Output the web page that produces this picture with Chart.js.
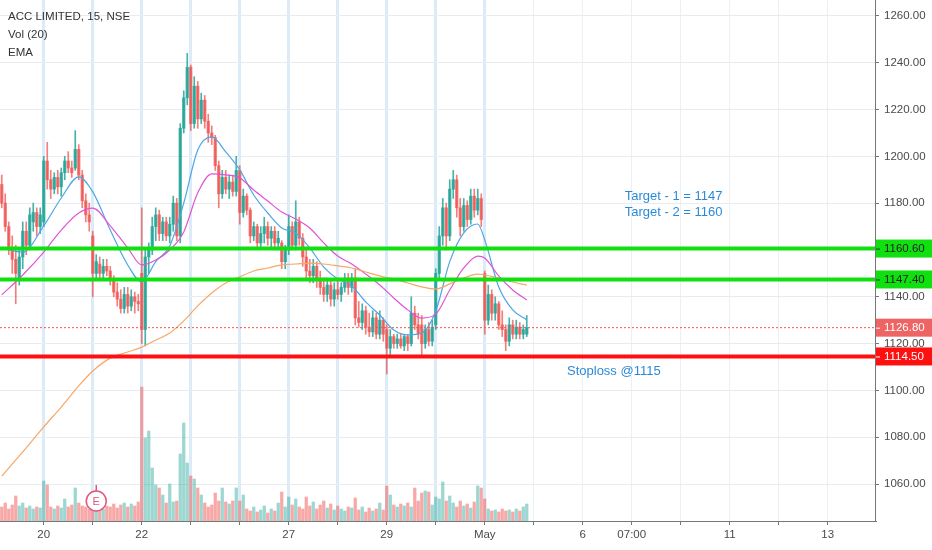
<!DOCTYPE html>
<html>
<head>
<meta charset="utf-8">
<title>ACC LIMITED, 15, NSE</title>
<script src="https://cdn.jsdelivr.net/npm/chart.js@4.4.1/dist/chart.umd.min.js"></script>
<style>
  html, body { margin: 0; padding: 0; background: #fff; }
  #wrap { width: 932px; height: 550px; position: relative; }
</style>
</head>
<body>
<div id="wrap"><canvas id="myChart"></canvas></div>
<script>
// 15 min candles, one entry per bar (index 0 = first visible bar)
const opens = [
  1188, 1180, 1170, 1161, 1156, 1148, 1157, 1168, 1162, 1172, 1176, 1170,
  1172, 1198, 1190, 1186, 1191, 1187, 1193, 1198, 1195, 1195, 1203, 1192, 1181, 1175,
  1166, 1150, 1154, 1150, 1153, 1151, 1147, 1142, 1139, 1135, 1141, 1136, 1140, 1138,
  1150, 1126, 1157, 1160, 1170, 1175, 1167, 1172, 1166, 1171, 1180, 1166, 1212, 1225,
  1238, 1214, 1230, 1216, 1224, 1215, 1210, 1208, 1196, 1184, 1191, 1186, 1189, 1185,
  1194, 1176, 1183, 1177, 1166, 1170, 1163, 1167, 1170, 1165, 1168, 1163, 1163, 1155,
  1160, 1170, 1162, 1172, 1165, 1157, 1151, 1149, 1153, 1147, 1144, 1141, 1145, 1139,
  1143, 1141, 1144, 1147, 1144, 1148, 1131, 1129, 1134, 1127, 1125, 1131, 1124, 1130,
  1126, 1118, 1123, 1120, 1122, 1119, 1123, 1120, 1133, 1128, 1128, 1120, 1126, 1121,
  1128, 1150, 1166, 1178, 1166, 1186, 1190, 1178, 1170, 1179, 1173, 1183, 1177, 1182,
  1150, 1130, 1141, 1133, 1137, 1128, 1126, 1121, 1128, 1124, 1127, 1124, 1124
];
const highs = [
  1192, 1184, 1172, 1166, 1162, 1160, 1172, 1172, 1178, 1180, 1178, 1178,
  1200, 1206, 1194, 1193, 1194, 1195, 1200, 1202, 1198, 1211, 1205, 1194, 1184, 1180,
  1168, 1158, 1157, 1156, 1156, 1153, 1149, 1146, 1143, 1144, 1144, 1143, 1142, 1141,
  1178, 1160, 1163, 1174, 1178, 1177, 1174, 1174, 1174, 1183, 1182, 1214, 1228, 1244,
  1239, 1234, 1232, 1227, 1226, 1218, 1213, 1209, 1198, 1194, 1194, 1192, 1192, 1200,
  1196, 1186, 1184, 1178, 1172, 1171, 1170, 1174, 1172, 1170, 1170, 1168, 1164, 1162,
  1175, 1172, 1181, 1174, 1167, 1160, 1156, 1156, 1155, 1151, 1148, 1148, 1147, 1146,
  1148, 1146, 1150, 1150, 1150, 1152, 1138, 1137, 1136, 1133, 1134, 1133, 1134, 1131,
  1128, 1126, 1124, 1124, 1124, 1124, 1124, 1140, 1136, 1133, 1132, 1128, 1129, 1130,
  1152, 1170, 1182, 1180, 1190, 1194, 1192, 1182, 1182, 1181, 1186, 1186, 1186, 1184,
  1151, 1145, 1143, 1140, 1138, 1134, 1128, 1131, 1130, 1130, 1129, 1128, 1132
];
const lows = [
  1178, 1168, 1158, 1150, 1137, 1145, 1152, 1158, 1160, 1168, 1166, 1167,
  1170, 1186, 1182, 1184, 1184, 1183, 1190, 1193, 1191, 1194, 1190, 1178, 1172, 1168,
  1140, 1148, 1148, 1147, 1149, 1145, 1140, 1136, 1133, 1133, 1133, 1134, 1133, 1134,
  1120, 1119, 1150, 1158, 1164, 1164, 1164, 1164, 1163, 1168, 1164, 1163, 1210, 1222,
  1211, 1212, 1212, 1214, 1212, 1206, 1205, 1194, 1178, 1182, 1184, 1182, 1183, 1183,
  1171, 1174, 1175, 1163, 1164, 1161, 1161, 1163, 1162, 1161, 1160, 1160, 1152, 1152,
  1158, 1160, 1160, 1162, 1153, 1148, 1146, 1146, 1144, 1141, 1138, 1138, 1136, 1136,
  1139, 1138, 1142, 1141, 1142, 1128, 1127, 1126, 1124, 1123, 1123, 1122, 1122, 1121,
  1107, 1115, 1118, 1118, 1118, 1117, 1117, 1119, 1126, 1122, 1115, 1118, 1119, 1119,
  1126, 1148, 1162, 1160, 1164, 1182, 1174, 1166, 1168, 1170, 1171, 1174, 1175, 1170,
  1124, 1128, 1130, 1130, 1126, 1123, 1117, 1119, 1122, 1122, 1122, 1122, 1123
];
const closes = [
  1180, 1170, 1161, 1156, 1150, 1157, 1168, 1162, 1175, 1176, 1170, 1175,
  1198, 1190, 1186, 1191, 1187, 1193, 1198, 1195, 1193, 1203, 1192, 1181, 1175, 1172,
  1150, 1155, 1150, 1153, 1151, 1147, 1142, 1139, 1135, 1141, 1136, 1140, 1138, 1137,
  1126, 1157, 1160, 1170, 1175, 1167, 1172, 1166, 1171, 1180, 1166, 1212, 1225, 1238,
  1214, 1230, 1216, 1224, 1215, 1210, 1208, 1196, 1184, 1191, 1186, 1189, 1185, 1194,
  1176, 1183, 1177, 1166, 1170, 1163, 1167, 1170, 1165, 1168, 1163, 1165, 1155, 1160,
  1170, 1162, 1172, 1165, 1157, 1151, 1149, 1153, 1147, 1144, 1141, 1145, 1139, 1143,
  1141, 1144, 1147, 1144, 1148, 1131, 1129, 1134, 1127, 1125, 1131, 1124, 1130, 1124,
  1118, 1123, 1120, 1122, 1119, 1123, 1120, 1133, 1128, 1124, 1120, 1126, 1121, 1127,
  1150, 1166, 1178, 1166, 1186, 1190, 1178, 1170, 1179, 1173, 1183, 1177, 1182, 1173,
  1130, 1141, 1133, 1137, 1128, 1126, 1121, 1128, 1124, 1127, 1124, 1126, 1126.8
];
const volumes = [
  14, 18, 12, 16, 25, 15, 18, 13, 15, 12, 14, 13,
  40, 36, 14, 12, 15, 13, 22, 14, 16, 33, 18, 15, 14, 12,
  16, 14, 18, 12, 15, 14, 17, 13, 16, 18, 14, 17, 15, 19,
  134, 83, 90, 53, 36, 33, 26, 18, 37, 19, 20, 67, 98, 58,
  45, 42, 33, 26, 18, 14, 16, 28, 20, 33, 19, 17, 20, 33,
  20, 26, 12, 10, 14, 9, 11, 15, 8, 12, 10, 18, 29, 14,
  24, 16, 22, 14, 12, 24, 15, 19, 12, 16, 20, 13, 17, 11,
  15, 12, 10, 14, 13, 23, 11, 14, 9, 13, 10, 12, 18, 11,
  35, 26, 16, 14, 17, 15, 18, 14, 33, 20, 28, 30, 29, 16,
  24, 22, 39, 20, 25, 18, 14, 20, 15, 17, 13, 19, 35, 33,
  22, 12, 10, 11, 9, 12, 10, 11, 9, 12, 10, 14, 17
];

// EMA values at these bar indexes
const emaIdx = [0, 6, 12, 17, 22, 26, 31, 36, 40, 44, 48, 52, 56, 60, 64, 68, 72, 76, 80,
  84, 88, 92, 96, 100, 104, 108, 112, 116, 120, 124, 128, 132, 136, 138, 142, 146, 150];
const emaFast = [1160.9, 1159.1, 1170.3, 1182.2, 1191.2, 1184.8, 1168.5, 1153.6, 1146.3,
  1155.0, 1161.7, 1180.0, 1202.7, 1208.3, 1201.9, 1194.2, 1183.5, 1175.8, 1169.4, 1167.3,
  1160.9, 1152.7, 1147.6, 1144.6, 1137.8, 1132.2, 1125.8, 1123.7, 1124.5, 1133.9, 1155.0,
  1167.3, 1171.1, 1164.3, 1144.2, 1134.4, 1130.1];
const emaMid = [1140.8, 1149.3, 1159.1, 1168.5, 1175.8, 1177.9, 1170.3, 1160.9, 1153.6,
  1155.7, 1160.0, 1167.7, 1184.4, 1192.5, 1192.1, 1190.8, 1185.6, 1180.9, 1176.2, 1173.2,
  1169.4, 1163.0, 1157.4, 1154.0, 1149.7, 1145.0, 1139.5, 1134.4, 1130.9, 1132.6, 1142.9,
  1152.3, 1157.4, 1156.6, 1148.9, 1142.9, 1138.6];
const emaSlow = [1063.4, 1073.7, 1084.4, 1092.9, 1101.9, 1108.3, 1113.8, 1116.4, 1118.5,
  1121.5, 1124.5, 1129.7, 1136.1, 1141.6, 1145.9, 1148.5, 1151.0, 1152.3, 1153.6, 1154.0,
  1154.4, 1154.0, 1153.2, 1152.3, 1150.6, 1148.9, 1147.6, 1145.9, 1144.2, 1143.3, 1145.5,
  1148.0, 1149.7, 1149.3, 1148.0, 1146.3, 1145.0];

// drawn levels
const targets = [1160.6, 1147.4];
const stoploss = 1114.5;
const lastPrice = 1126.8;

// axes
const dayTicks = [12, 26, 40, 54, 68, 82, 96, 110, 124, 138, 152, 166, 180, 194, 208, 222, 236];
const dayLabels = ['20', '', '22', '', '', '27', '', '29', '', 'May', '', '6', '07:00', '', '11', '', '13'];
const priceTicks = [1060, 1080, 1100, 1120, 1140, 1160, 1180, 1200, 1220, 1240, 1260];
const lastSession = 138;
const earningsBar = 27;

const notes = [
  { text: 'Target - 1 = 1147', at: 178, price: 1183 },
  { text: 'Target - 2 = 1160', at: 178, price: 1176 },
  { text: 'Stoploss @1115', at: 161.5, price: 1108 }
];

const UP = 'rgba(38,166,154,0.85)';
const DOWN = 'rgba(239,83,80,0.75)';
const isUp = opens.map((o, i) => closes[i] >= o);
const XMIN = -0.5, XMAX = 249.5;

function level(v, color, width, dash) {
  return {
    type: 'line', data: [{ x: XMIN, y: v }, { x: XMAX, y: v }],
    borderColor: color, borderWidth: width, borderDash: dash || [],
    pointRadius: 0, order: 0
  };
}
function ema(values, color) {
  return {
    type: 'line', data: emaIdx.map((x, k) => ({ x: x, y: values[k] })),
    borderColor: color, borderWidth: 1.2, pointRadius: 0,
    cubicInterpolationMode: 'monotone', order: 2
  };
}
function noPad(axis) {
  axis.paddingTop = 0; axis.paddingBottom = 0;
  axis.paddingLeft = 0; axis.paddingRight = 0;
}

const overlay = {
  id: 'overlay',
  afterDatasetsDraw(chart) {
    const ctx = chart.ctx, x = chart.scales.x, y = chart.scales.y, area = chart.chartArea;
    ctx.save();
    ctx.font = '13px "Liberation Sans", Arial, sans-serif';
    ctx.fillStyle = '#2b8ad8';
    ctx.textBaseline = 'middle';
    notes.forEach(n => ctx.fillText(n.text, x.getPixelForValue(n.at), y.getPixelForValue(n.price)));

    // earnings marker
    const ex = x.getPixelForValue(earningsBar), ey = area.bottom - 20;
    ctx.strokeStyle = '#e0587c';
    ctx.lineWidth = 1.5;
    ctx.beginPath();
    ctx.moveTo(ex, ey - 16); ctx.lineTo(ex, ey - 10);
    ctx.stroke();
    ctx.beginPath();
    ctx.arc(ex, ey, 10, 0, Math.PI * 2);
    ctx.fillStyle = '#fff';
    ctx.fill();
    ctx.stroke();
    ctx.fillStyle = '#e0587c';
    ctx.font = '11px "Liberation Sans", Arial, sans-serif';
    ctx.textAlign = 'center';
    ctx.fillText('E', ex, ey + 1);
    ctx.restore();
  },
  afterDraw(chart) {
    const ctx = chart.ctx, y = chart.scales.y;
    ctx.save();
    ctx.font = '11.5px "Liberation Sans", Arial, sans-serif';
    ctx.textBaseline = 'middle';
    const badges = [
      { v: targets[0], bg: '#10e010', fg: '#1d1d1d' },
      { v: targets[1], bg: '#10e010', fg: '#1d1d1d' },
      { v: lastPrice, bg: '#ee6464', fg: '#ffffff' },
      { v: stoploss, bg: '#ff1010', fg: '#ffffff' }
    ];
    badges.forEach(b => {
      const py = y.getPixelForValue(b.v);
      ctx.fillStyle = b.bg;
      ctx.fillRect(y.left + 1, py - 9, chart.width - y.left, 18);
      ctx.strokeStyle = b.fg === '#1d1d1d' ? '#333' : '#fff';
      ctx.lineWidth = 1;
      ctx.beginPath(); ctx.moveTo(y.left + 1, py + 0.5); ctx.lineTo(y.left + 5, py + 0.5); ctx.stroke();
      ctx.fillStyle = b.fg;
      ctx.fillText(b.v.toFixed(2), y.left + 9, py + 0.5);
    });

    ctx.fillStyle = '#333';
    ctx.fillText('ACC LIMITED, 15, NSE', 8, 17);
    ctx.fillText('Vol (20)', 8, 35);
    ctx.fillText('EMA', 8, 53);
    ctx.restore();
  }
};

Chart.defaults.font.family = '"Liberation Sans", Arial, sans-serif';

const ctx = document.getElementById('myChart').getContext('2d');
new Chart(ctx, {
  type: 'bar',
  data: {
    datasets: [
      {
        yAxisID: 'yv', order: 10, grouped: false, barThickness: 2.6,
        data: volumes.map((v, i) => ({ x: i, y: v })),
        backgroundColor: isUp.map(u => u ? 'rgba(38,166,154,0.45)' : 'rgba(239,83,80,0.5)')
      },
      {
        yAxisID: 'y', order: 4, grouped: false, barThickness: 1,
        data: lows.map((l, i) => ({ x: i, y: [l, highs[i]] })),
        backgroundColor: isUp.map(u => u ? UP : DOWN)
      },
      {
        yAxisID: 'y', order: 3, grouped: false, barThickness: 2.6, minBarLength: 1,
        data: opens.map((o, i) => ({ x: i, y: [o, closes[i]] })),
        backgroundColor: isUp.map(u => u ? UP : DOWN)
      },
      ema(emaSlow, '#f7a766'),
      ema(emaMid, '#e054d6'),
      ema(emaFast, '#4ea6e6'),
      level(targets[0], '#10e010', 4),
      level(targets[1], '#10e010', 4),
      level(stoploss, '#ff1010', 4),
      level(lastPrice, '#ef5350', 1, [2, 2])
    ]
  },
  options: {
    responsive: true,
    maintainAspectRatio: false,
    animation: false,
    layout: { padding: 0 },
    plugins: { legend: { display: false }, tooltip: { enabled: false } },
    scales: {
      x: {
        type: 'linear', min: XMIN, max: XMAX, offset: false,
        afterBuildTicks: axis => { axis.ticks = dayTicks.map(v => ({ value: v })); },
        afterFit: axis => { axis.height = 29; noPad(axis); },
        grid: {
          offset: false,
          color: c => c.tick && c.tick.value <= lastSession ? 'rgba(178,210,240,0.45)' : '#eceff3',
          lineWidth: c => c.tick && c.tick.value <= lastSession ? 3 : 1,
          tickLength: 4, tickColor: '#777', tickWidth: 1
        },
        border: { color: '#777' },
        ticks: {
          autoSkip: false, maxRotation: 0, padding: 3, color: '#4a4a4a', font: { size: 11.5 },
          callback: v => { const k = dayTicks.indexOf(v); return k < 0 ? '' : dayLabels[k]; }
        }
      },
      y: {
        position: 'right', min: 1044.2, max: 1266.8,
        afterBuildTicks: axis => { axis.ticks = priceTicks.map(v => ({ value: v })); },
        afterFit: axis => { axis.width = 57; noPad(axis); },
        grid: { color: '#e8ecf1', tickLength: 4, tickColor: '#777' },
        border: { color: '#777' },
        ticks: { padding: 5, color: '#4a4a4a', font: { size: 11.5 }, callback: v => v.toFixed(2) }
      },
      yv: { display: false, min: 0, max: 521, afterFit: noPad }
    }
  },
  plugins: [overlay]
});
</script>
</body>
</html>
